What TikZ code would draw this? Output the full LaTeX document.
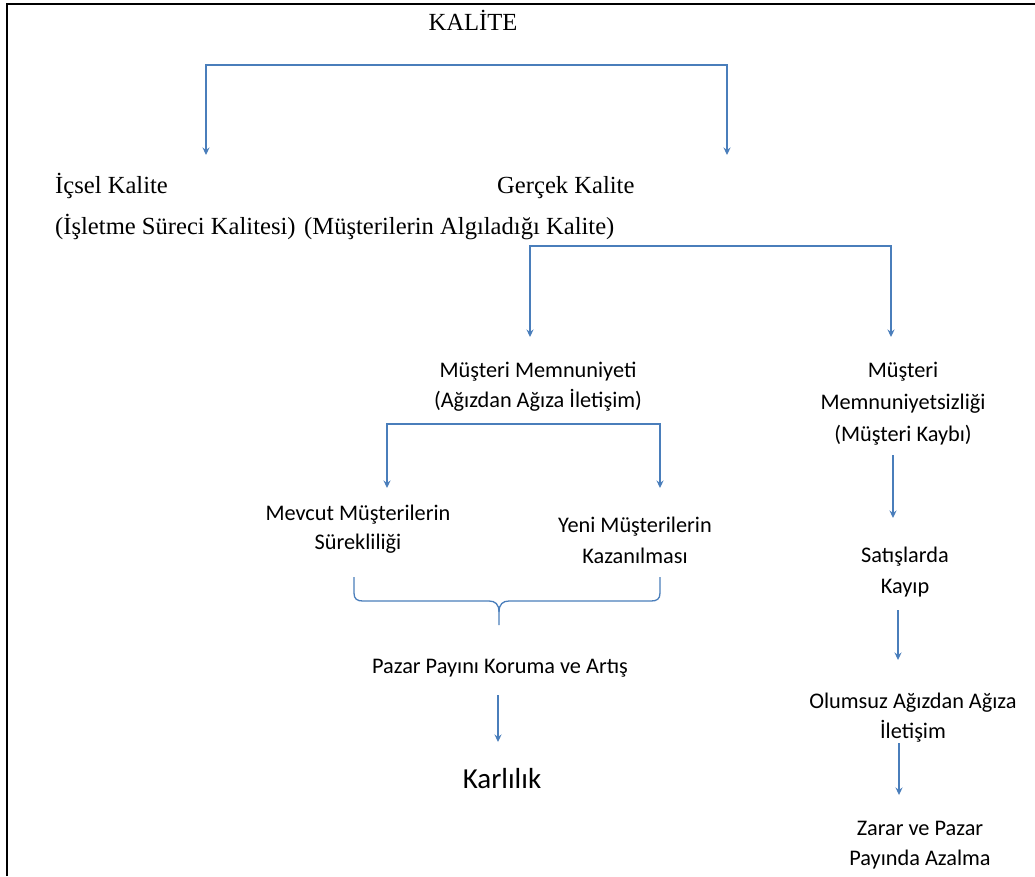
\documentclass[tikz,border=0pt]{standalone}
\usepackage{fontspec}
\setmainfont{Liberation Serif}
\newfontfamily\calfont{Carlito}
\usetikzlibrary{arrows.meta}
\definecolor{linkblue}{RGB}{74,126,187}
% centred multi-line label whose baseline is that of its first line
\newcommand\stack[1]{\begin{tabular}[t]{@{}c@{}}#1\end{tabular}}

\begin{document}
\begin{tikzpicture}[x=1pt,y=-1pt,
  serif/.style={font=\fontsize{24.6}{28}\selectfont, inner sep=0pt, anchor=base west},
  cal/.style={font=\calfont\fontsize{22.3}{#1}\selectfont, inner sep=0pt, anchor=base},
  cal/.default=30,
  link/.style={draw=linkblue, line width=1.3pt},
  arr/.style={link, -{Stealth[length=7.5pt,width=7pt]}}]

\useasboundingbox (0,0) rectangle (1035,876);
\fill[white] (0,0) rectangle (1035,876);

% frame (top and left edges)
\draw[line width=2.2pt, line join=miter] (7,876) -- (7,4) -- (1035,4);

% ---- labels ----
\node[serif, anchor=base] (kalite) at (473,30) {KALİTE};

\node[serif] (icsel)  at (55,193)  {İçsel Kalite};
\node[serif] (icselb) at (55,234)  {(İşletme Süreci Kalitesi)};
\node[serif] (gercek) at (497,193) {Gerçek Kalite};
\node[serif] (gercekb) at (304,234) {(Müşterilerin Algıladığı Kalite)};

\node[cal] (memn)   at (538,377) {\stack{Müşteri Memnuniyeti\\(Ağızdan Ağıza İletişim)}};
\node[cal=32] (memsz) at (903,377) {\stack{Müşteri\\Memnuniyetsizliği\\(Müşteri Kaybı)}};

\node[cal=29] (mevcut) at (358,520) {\stack{Mevcut Müşterilerin\\Sürekliliği}};
\node[cal=31] (yeni)   at (635,532) {\stack{Yeni Müşterilerin\\Kazanılması}};

\node[cal] (pazar) at (500,673) {Pazar Payını Koruma ve Artış};
\node[font=\calfont\fontsize{29}{34}\selectfont, inner sep=0pt, anchor=base] (karlilik) at (502,788) {Karlılık};

\node[cal=31] (satis)   at (905,562) {\stack{Satışlarda\\Kayıp}};
\node[cal]    (olumsuz) at (913,708) {\stack{Olumsuz Ağızdan Ağıza\\İletişim}};
\node[cal]    (zarar)   at (920,835) {\stack{Zarar ve Pazar\\Payında Azalma}};

% ---- connector end points ----
\coordinate (k1) at (206,65);   \coordinate (k2) at (727,65);
\coordinate (k1e) at (206,155); \coordinate (k2e) at (727,155);

\coordinate (g1) at (530,246);  \coordinate (g2) at (891,246);
\coordinate (g1e) at (530,337); \coordinate (g2e) at (891,337);

\coordinate (m1) at (387,424);  \coordinate (m2) at (660,424);
\coordinate (m1e) at (387,488); \coordinate (m2e) at (660,488);

\coordinate (p1) at (498,695);  \coordinate (p1e) at (498,742);

\coordinate (r1) at (893,455);  \coordinate (r1e) at (893,518);
\coordinate (r2) at (898,610);  \coordinate (r2e) at (898,660);
\coordinate (r3) at (899,743);  \coordinate (r3e) at (899,795);

% ---- connectors ----
\draw[arr] (k2) -- (k1) -- (k1e);
\draw[arr] (k1) -- (k2) -- (k2e);

\draw[arr] (g2) -- (g1) -- (g1e);
\draw[arr] (g1) -- (g2) -- (g2e);

\draw[arr] (m2) -- (m1) -- (m1e);
\draw[arr] (m1) -- (m2) -- (m2e);

\draw[arr] (p1) -- (p1e);

\draw[arr] (r1) -- (r1e);
\draw[arr] (r2) -- (r2e);
\draw[arr] (r3) -- (r3e);

% brace gathering both customer outcomes
\draw[link] (354,577) -- (354,593) .. controls (354,599) and (357,601) .. (363,601)
  -- (489,601) .. controls (495,601) and (499,604) .. (499,612) -- (499,625);
\draw[link] (660,577) -- (660,593) .. controls (660,599) and (657,601) .. (651,601)
  -- (509,601) .. controls (503,601) and (499,604) .. (499,612);

\end{tikzpicture}
\end{document}
